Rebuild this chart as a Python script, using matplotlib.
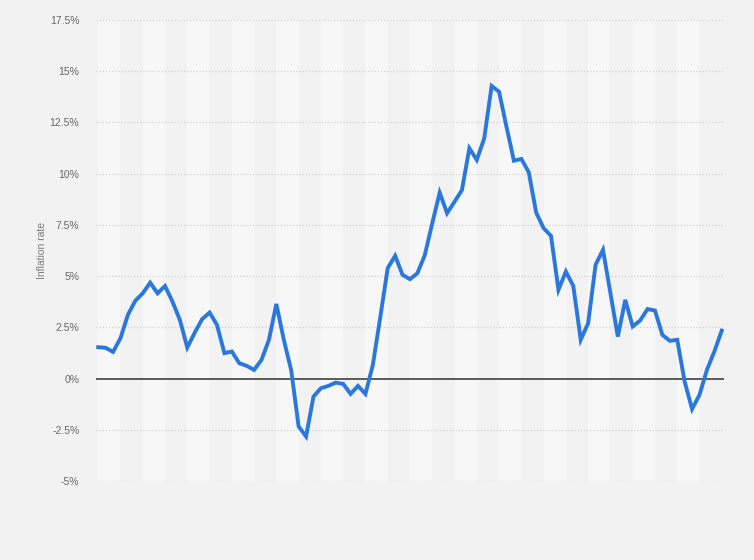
import matplotlib
matplotlib.use("Agg")
import matplotlib.pyplot as plt
import numpy as np

plt.rcParams['font.family'] = ['Liberation Sans', 'DejaVu Sans']

# inflation rate, % (quarterly readings)
values = [1.53, 1.50, 1.30, 1.97, 3.11, 3.80, 4.16, 4.68, 4.16, 4.52,
          3.76, 2.86, 1.51, 2.24, 2.90, 3.22, 2.62, 1.24, 1.32, 0.75,
          0.62, 0.42, 0.91, 1.89, 3.64, 1.90, 0.40, -2.34, -2.83, -0.88,
          -0.47, -0.36, -0.20, -0.26, -0.75, -0.36, -0.75, 0.67, 3.00, 5.39,
          5.99, 5.06, 4.85, 5.14, 6.03, 7.58, 9.07, 8.07, 8.63, 9.20,
          11.24, 10.67, 11.72, 14.28, 14.00, 12.29, 10.63, 10.72, 10.07, 8.10,
          7.34, 6.96, 4.33, 5.22, 4.52, 1.89, 2.70, 5.55, 6.28, 4.17,
          2.05, 3.84, 2.54, 2.83, 3.39, 3.32, 2.13, 1.84, 1.89, -0.15,
          -1.49, -0.80, 0.42, 1.32, 2.34]
y_ticks = [-5, -2.5, 0, 2.5, 5, 7.5, 10, 12.5, 15, 17.5]
y_labels = ['-5%', '-2.5%', '0%', '2.5%', '5%', '7.5%', '10%', '12.5%', '15%', '17.5%']

x = np.arange(len(values))

fig = plt.figure(figsize=(7.54, 5.60), dpi=100, facecolor='#f2f2f2')
ax = fig.add_axes([0.1273, 0.1411, 0.9602 - 0.1273, 0.9643 - 0.1411])
ax.set_facecolor('#f2f2f2')

# alternating stripes, one per 3 quarters
for start in range(0, len(values) - 1, 6):
    ax.axvspan(start, start + 3, color='#f7f7f7', lw=0, zorder=0)

for t in y_ticks:
    if t == 0:
        continue
    ax.axhline(t, color='#d2d2d2', lw=0.9, ls=(0, (1, 1.5)), zorder=1)
ax.axhline(0, color='#5a5a5a', lw=1.4, zorder=2)

ax.plot(x, values, color='#2a78dc', lw=2.8, solid_joinstyle='miter', zorder=3)

ax.set_xlim(-0.3, len(values) - 1 + 0.3)
ax.set_ylim(-5, 17.5)
ax.set_yticks(y_ticks)
ax.set_yticklabels(y_labels, fontsize=7.5, color='#666666')
ax.set_xticks([])
ax.tick_params(axis='y', length=0, pad=12)
for s in ax.spines.values():
    s.set_visible(False)

ax.set_ylabel('Inflation rate', fontsize=7.5, color='#7a7a7a')
ax.yaxis.set_label_coords(-0.078, 0.5)

fig.savefig('out.png', dpi=100, facecolor=fig.get_facecolor())
